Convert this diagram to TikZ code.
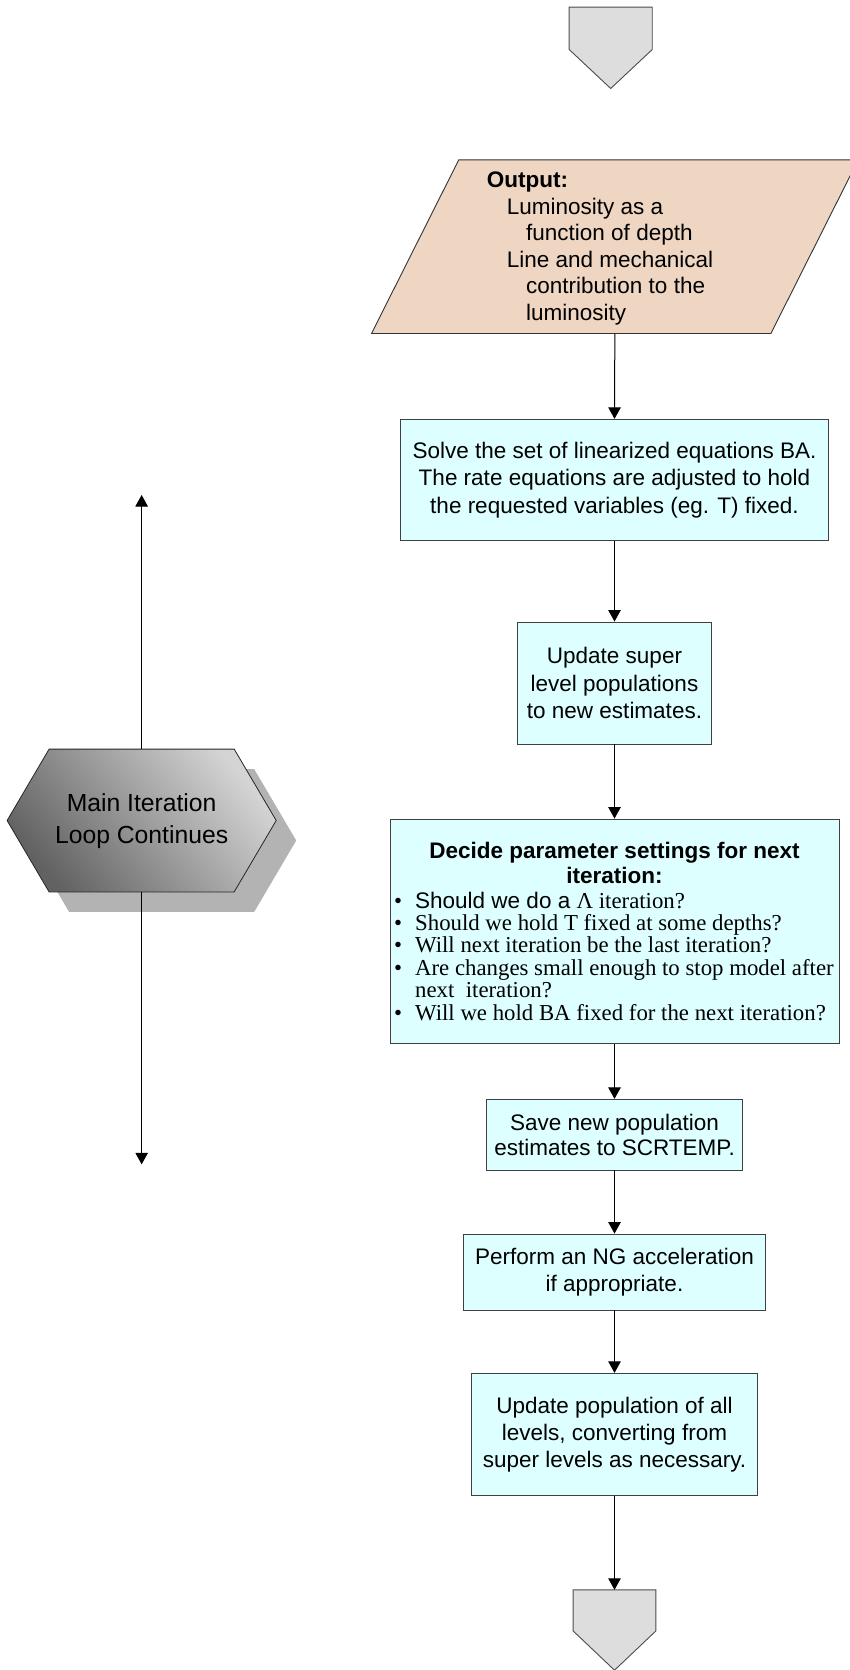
\documentclass[tikz,border=0pt]{standalone}
\usepackage{fontspec}
\setmainfont{Liberation Sans}
\newfontfamily\serifrm{Liberation Serif}
\usetikzlibrary{arrows.meta}
\definecolor{procfill}{HTML}{DDFFFF}
\definecolor{outfill}{HTML}{EED6C3}
\definecolor{connfill}{HTML}{DDDDDD}
\definecolor{hexshadow}{HTML}{B3B3B3}
\definecolor{hexlight}{HTML}{D4D4D4}
\definecolor{hexdark}{HTML}{626262}

\begin{document}
\begin{tikzpicture}[
  x=1pt, y=-1pt,
  font=\fontsize{22.5}{26.8}\selectfont,
  frame/.style={inner sep=0pt},
  proc/.style={draw=black!75, line width=0.9pt, fill=procfill, align=center, inner sep=0pt},
  conn/.style={draw=black!70, line width=0.9pt, fill=connfill},
  hexof/.style={insert path={(#1.west) -- ([xshift=42pt]#1.north west) -- ([xshift=-42pt]#1.north east) -- (#1.east) -- ([xshift=-42pt]#1.south east) -- ([xshift=42pt]#1.south west) -- cycle}},
  arr/.style={-{Triangle[width=12.5pt,length=11.5pt]}, line width=1pt}
]
  \useasboundingbox (0,0) rectangle (850,1670);
  % off-page connector, top
  \node[frame, minimum width=82.7pt, minimum height=81pt] (entry) at (610.7,47.8) {};
  \path[conn] (entry.north west) -- (entry.north east) -- ([yshift=39pt]entry.south east) -- (entry.south) -- ([yshift=39pt]entry.south west) -- cycle;
  % output
  \node[frame, minimum width=486.3pt, minimum height=173.3pt] (output) at (614.85,246.65) {};
  \path[draw=black!80, line width=0.9pt, fill=outfill] (output.south west) -- ([xshift=-87.3pt]output.south east) -- (output.north east) -- ([xshift=87.3pt]output.north west) -- cycle;
  \node[anchor=north west, align=left, inner sep=0pt, font=\fontsize{22.5}{26.6}\selectfont] (outtext) at (486.7,171.5) {\textbf{Output:}\\\hspace*{20pt}Luminosity as a\\\hspace*{39.3pt}function of depth\\\hspace*{20pt}Line and mechanical\\\hspace*{39.3pt}contribution to the\\\hspace*{39.3pt}luminosity};
  % process boxes
  \node[proc, minimum width=428.7pt, minimum height=121.4pt, font=\fontsize{22.5}{27.3}\selectfont] (solve) at (614.5,480) {Solve the set of linearized equations BA.\\The rate equations are adjusted to hold\\the requested variables (eg. T) fixed.};
  \node[proc, minimum width=194.4pt, minimum height=122pt, font=\fontsize{22.5}{27.3}\selectfont] (super) at (614.5,683) {Update super\\level populations\\to new estimates.};
  \node[proc, minimum width=449pt, minimum height=224.3pt] (decide) at (614.5,931.15) {};
  \node[anchor=north, align=center, inner sep=0pt, font=\fontsize{22.5}{25.5}\selectfont\bfseries] (dhead) at (614.5,841.7) {Decide parameter settings for next\\iteration:};
  \node[anchor=north west, align=left, inner sep=0pt, font=\fontsize{22.8}{22.4}\selectfont] (dlist) at (394,891.5) {%
    \makebox[21pt][l]{\serifrm •}{\fontsize{22.5}{22.4}\selectfont Should we do a} {\serifrm Λ iteration?}\\
    \makebox[21pt][l]{\serifrm •}{\serifrm Should we hold T fixed at some depths?}\\
    \makebox[21pt][l]{\serifrm •}{\serifrm Will next iteration be the last iteration?}\\
    \makebox[21pt][l]{\serifrm •}{\serifrm Are changes small enough to stop model after}\\
    \hspace*{21pt}{\serifrm next\ \ iteration?}\\
    \makebox[21pt][l]{\serifrm •}{\serifrm Will we hold BA fixed for the next iteration?}};
  \node[proc, minimum width=256pt, minimum height=70.7pt, font=\fontsize{22.5}{25}\selectfont] (save) at (614.5,1134.65) {Save new population\\estimates to SCRTEMP.};
  \node[proc, minimum width=301.7pt, minimum height=76pt] (ng) at (614.5,1272) {Perform an NG acceleration\\if appropriate.};
  \node[proc, minimum width=285.6pt, minimum height=122.4pt] (update) at (614.5,1434.5) {Update population of all\\levels, converting from\\super levels as necessary.};
  % off-page connector, bottom
  \node[frame, minimum width=82.4pt, minimum height=80pt] (exit) at (614.5,1630) {};
  \path[conn] (exit.north west) -- (exit.north east) -- ([yshift=39.3pt]exit.south east) -- (exit.south) -- ([yshift=39.3pt]exit.south west) -- cycle;
  % main loop
  \node[frame, minimum width=268.7pt, minimum height=142.4pt] (loopsh) at (161.65,840.5) {};
  \node[frame, minimum width=268.7pt, minimum height=142.4pt] (loop) at (141.65,820.5) {};
  \path[fill=hexshadow, hexof=loopsh];
  \path[top color=hexlight, bottom color=hexdark, shading angle=-50, draw=black!85, line width=0.8pt, hexof=loop];
  \node[align=center, inner sep=0pt, font=\fontsize{24.7}{31.7}\selectfont] (looptext) at (141.65,821) {Main Iteration\\Loop Continues};
  \coordinate (looptop) at (141.65,495);
  \coordinate (loopbot) at (141.65,1164.3);
  % arrows
  \draw[arr] (output.south) -- (solve.north);
  \draw[arr] (solve) -- (super);
  \draw[arr] (super) -- (decide);
  \draw[arr] (decide) -- (save);
  \draw[arr] (save) -- (ng);
  \draw[arr] (ng) -- (update);
  \draw[arr] (update) -- (exit);
  \draw[arr] (loop.north) -- (looptop);
  \draw[arr] (loop.south) -- (loopbot);
\end{tikzpicture}
\end{document}
